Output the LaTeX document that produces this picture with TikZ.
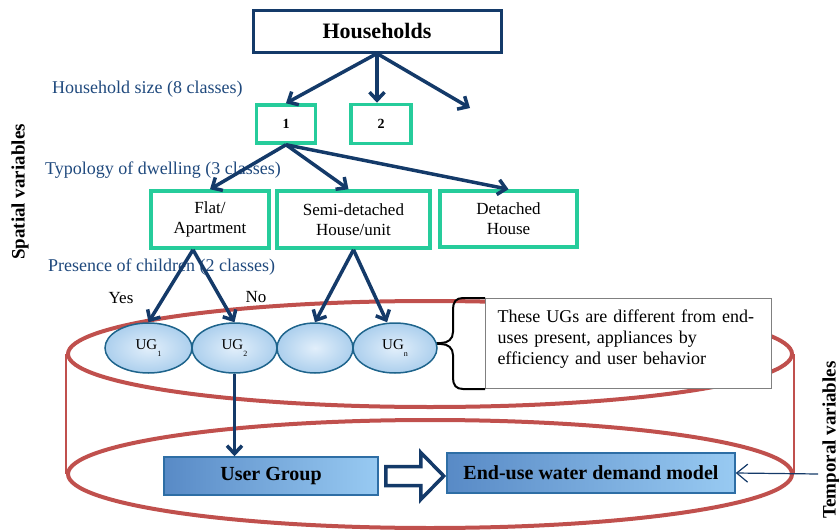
\documentclass[tikz,border=0pt]{standalone}
\usepackage{fontspec}
\setmainfont{Liberation Serif}
\usetikzlibrary{shapes.geometric, arrows.meta, positioning}

\definecolor{navy}{RGB}{20,58,105}
\definecolor{classgreen}{RGB}{38,204,155}
\definecolor{rimred}{RGB}{192,80,77}
\definecolor{labelblue}{RGB}{31,73,125}
\definecolor{ugedge}{RGB}{30,100,140}
\definecolor{ugin}{RGB}{226,239,251}
\definecolor{ugout}{RGB}{172,207,237}
\definecolor{modeledge}{RGB}{46,110,165}
\definecolor{modeldark}{RGB}{88,138,198}
\definecolor{modellight}{RGB}{152,202,242}

\newcommand{\ugsub}[1]{\raisebox{-7pt}{\fontsize{8}{8}\selectfont #1}}

\begin{document}
\begin{tikzpicture}[x=1pt, y=-1pt,  % pixel-like units, y pointing down
    hhbox/.style={draw=navy, line width=3pt, fill=white, minimum width=248pt, minimum height=42pt, font=\fontsize{22}{24}\selectfont\bfseries},
    classbox/.style={draw=classgreen, line width=3.5pt, fill=white, align=center, font=\fontsize{17}{20}\selectfont},
    sizebox/.style={classbox, minimum width=59pt, minimum height=38pt, font=\fontsize{14}{16}\selectfont\bfseries},
    flow/.style={draw=navy, line width=3.5pt, -{Straight Barb[length=8pt, width=15pt]}},
    leveltext/.style={anchor=west, inner sep=0pt, text=labelblue, font=\fontsize{18}{21}\selectfont},
    ugnode/.style={ellipse, draw=ugedge, line width=1.5pt, inner color=ugin, outer color=ugout, font=\fontsize{15}{17}\selectfont},
    modelbox/.style={draw=modeledge, line width=1.5pt, left color=modeldark, right color=modellight, font=\fontsize{20}{22}\selectfont\bfseries},
    rim/.style={ellipse, draw=rimred, line width=4pt, minimum width=724pt},
    axistext/.style={rotate=90, font=\fontsize{19}{21}\selectfont\bfseries}
]
\useasboundingbox (0,0) rectangle (839,530);

% the two red rims joined at their sides
\node[rim, minimum height=106pt] (rimtop) at (430,354) {};
\node[rim, minimum height=108pt] (rimbot) at (430,474) {};
\draw[rimred, line width=1.5pt] (rimtop.west) -- (rimbot.west);
\draw[rimred, line width=1.5pt] (rimtop.east) -- (rimbot.east);

% side titles
\node[axistext] (spatial) at (20,192) {Spatial variables};
\node[axistext] (temporal) at (831,440) {Temporal variables};

% households and its classes
\node[hhbox] (hh) at (377,31) {Households};
\node[leveltext] (sizelabel) at (52,89) {Household size (8 classes)};
\node[sizebox] (size1) at (286,124) {1};
\node[sizebox, minimum width=60pt, minimum height=39pt] (size2) at (381,124) {2};
\coordinate (sizen) at (470,108);

\node[leveltext] (typelabel) at (45,170) {Typology of dwelling (3 classes)};
\node[classbox, minimum width=118pt, minimum height=57pt] (flat) at (210,219.5) {Flat/\\Apartment};
\node[classbox, minimum width=153pt, minimum height=57pt] (semi) at (353.5,219.5) {Semi-detached\\House/unit};
\node[classbox, minimum width=137pt, minimum height=56pt] (detached) at (508.5,219) {Detached\\House};

\node[leveltext] (kidslabel) at (48,267) {Presence of children (2 classes)};
\node[font=\fontsize{17}{20}\selectfont] (yes) at (121,298) {Yes};
\node[font=\fontsize{17}{20}\selectfont] (no) at (256,297) {No};

% note with its brace
\node[draw=gray, fill=white, line width=1pt, anchor=north west, text width=262pt, inner xsep=12pt, text depth=55pt, minimum height=90pt, align=left, font=\fontsize{18}{21}\selectfont] (note) at (485,298) {These UGs are different from end-\\uses present, appliances by\\efficiency and user behavior};
\coordinate (bracetip) at ([xshift=-68pt]note.west);
\draw[black, line width=2pt] (note.north west) -- ++(-22,0) .. controls +(-7,0) and +(0,-7) .. ++(-10,11) -- ++(0,23) .. controls +(0,7) and +(7,0) .. ++(-12,11) -- (bracetip);
\draw[black, line width=2pt] (note.south west) -- ++(-22,0) .. controls +(-7,0) and +(0,7) .. ++(-10,-11) -- ++(0,-23) .. controls +(0,-7) and +(7,0) .. ++(-12,-11) -- (bracetip);

% user groups
\node[ugnode, minimum width=87pt, minimum height=50pt] (ug1) at (148.5,348) {UG\ugsub{1}};
\node[ugnode, minimum width=85pt, minimum height=50pt] (ug2) at (234.5,348) {UG\ugsub{2}};
\node[ugnode, minimum width=76pt, minimum height=50pt] (ug3) at (315,348) {};
\node[ugnode, minimum width=84pt, minimum height=50pt] (ugn) at (395,348) {UG\ugsub{n}};

% model boxes
\node[modelbox, minimum width=214pt, minimum height=38pt] (usergroup) at (271,476) {User Group};
\node[modelbox, minimum width=288pt, minimum height=40pt] (enduse) at (591,473) {End-use water demand model};

% arrows
\draw[flow] (hh.south) -- (size1.north);
\draw[flow] (hh.south) -- (hh.south |- size2.north);
\draw[flow] (hh.south) -- (sizen);
\draw[flow] (size1.south) -- (flat.north);
\draw[flow] (size1.south) -- ([xshift=-5pt]semi.north);
\draw[flow] (size1.south) -- (detached.north);
\draw[flow] ([xshift=-17pt]flat.south) -- (ug1.north);
\draw[flow] ([xshift=-17pt]flat.south) -- (ug2.north);
\draw[flow] (semi.south) -- (ug3.north);
\draw[flow] (semi.south) -- ([xshift=-8pt]ugn.north);
\draw[flow] (ug2.south) -- (ug2.south |- usergroup.north);

% hollow block arrow between the model boxes
\draw[navy, line width=3.5pt, fill=white, line join=miter] ([xshift=7pt]usergroup.east) ++(0,-9.5) -- ++(35,0) -- ++(0,-14) -- ++(23,23.5) -- ++(-23,23.5) -- ++(0,-14) -- ++(-35,0) -- cycle;

\coordinate (tempin) at (818,474);
\draw[navy, line width=1.2pt, -{Straight Barb[length=11pt, width=18pt]}] (tempin) -- (enduse.east);
\end{tikzpicture}
\end{document}
